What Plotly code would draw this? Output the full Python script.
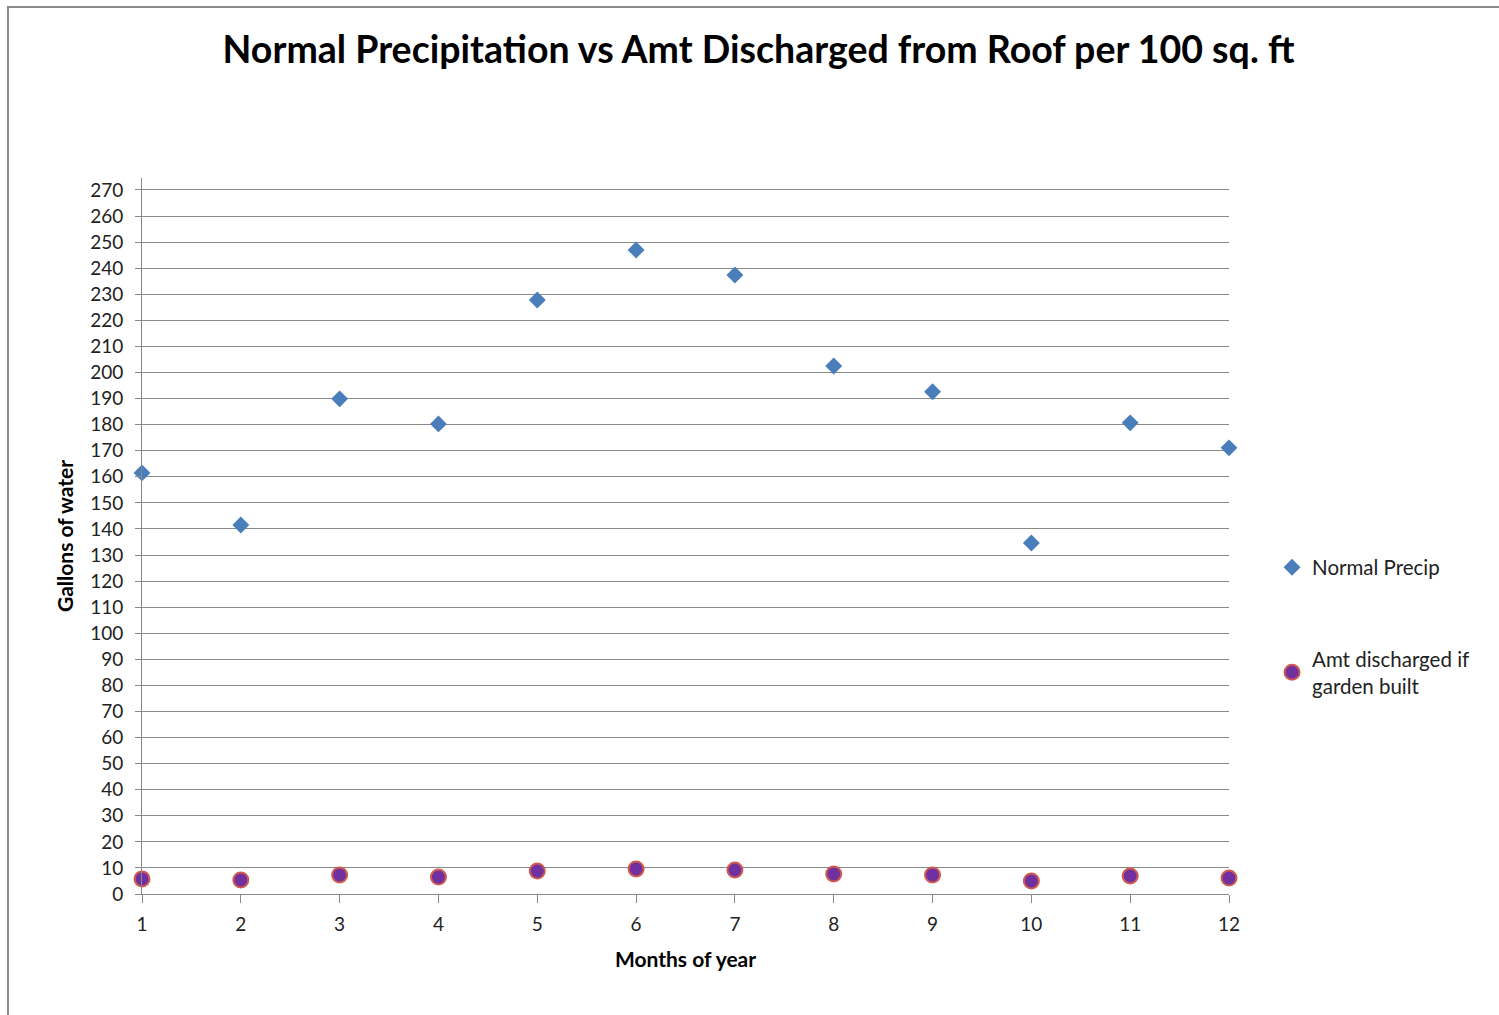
import plotly.graph_objects as go

months = [1, 2, 3, 4, 5, 6, 7, 8, 9, 10, 11, 12]
normal_precip = [161.5, 141.5, 189.9, 180.3, 227.8, 247.0, 237.4, 202.5, 192.6, 134.6, 180.7, 171.1]
discharged = [5.8, 5.4, 7.3, 6.5, 8.8, 9.6, 9.2, 7.7, 7.3, 5.0, 6.9, 6.1]
y_ticks = list(range(0, 280, 10))

FONT = "Lato, 'Open Sans', sans-serif"

fig = go.Figure()
fig.add_trace(go.Scatter(
    x=months, y=normal_precip, mode="markers", name="Normal Precip", legendgroup="a",
    marker=dict(symbol="diamond", size=13, color="#4A7EBB", line=dict(width=0)),
    cliponaxis=False,
))
fig.add_trace(go.Scatter(
    x=months, y=discharged, mode="markers", name="Amt discharged if<br>garden built", legendgroup="b",
    marker=dict(symbol="circle", size=15, color="#7030A0", line=dict(width=2, color="#D05A50")),
    cliponaxis=False,
))

fig.update_layout(
    width=1499, height=1015,
    margin=dict(l=142, r=270, t=178, b=121),
    paper_bgcolor="white", plot_bgcolor="white",
    font=dict(family=FONT, color="#222222", size=18),
    title=dict(text="<b>Normal Precipitation vs Amt Discharged from Roof per 100 sq. ft</b>",
               x=0.506, xanchor="center", y=0.951, yanchor="middle",
               font=dict(size=37.5, color="black", family=FONT)),
    showlegend=True,
    legend=dict(x=1.0396, y=0.484, xanchor="left", yanchor="top",
                font=dict(size=20.5, color="#222222"), tracegroupgap=62,
                bgcolor="rgba(0,0,0,0)"),
    shapes=[dict(type="rect", xref="paper", yref="paper",
                 x0=-0.1233, x1=1.4, y0=-0.3, y1=1.2388,
                 line=dict(color="#8a8a8a", width=2), fillcolor="rgba(0,0,0,0)", layer="below")],
)

fig.update_xaxes(
    range=[1, 12], tickmode="array", tickvals=months, ticktext=[str(m) for m in months],
    showgrid=False, showline=True, linecolor="#8a8a8a", linewidth=1,
    ticks="outside", ticklen=8, tickcolor="#8a8a8a", zeroline=False, ticklabelstandoff=5,
    tickfont=dict(size=19, color="#222222"),
    title=dict(text="<b>Months of year</b>", font=dict(size=21, color="black"), standoff=18),
)
fig.update_yaxes(
    range=[0, 274.6], tickmode="array", tickvals=y_ticks, ticktext=[str(v) for v in y_ticks],
    showgrid=True, gridcolor="#8a8a8a", gridwidth=1,
    showline=True, linecolor="#8a8a8a", linewidth=1,
    ticks="outside", ticklen=6, tickcolor="#8a8a8a", zeroline=False, ticklabelstandoff=8,
    tickfont=dict(size=19, color="#222222"),
    title=dict(text="<b>Gallons of water</b>", font=dict(size=21, color="black"), standoff=10),
)

fig.write_html("out.html")
